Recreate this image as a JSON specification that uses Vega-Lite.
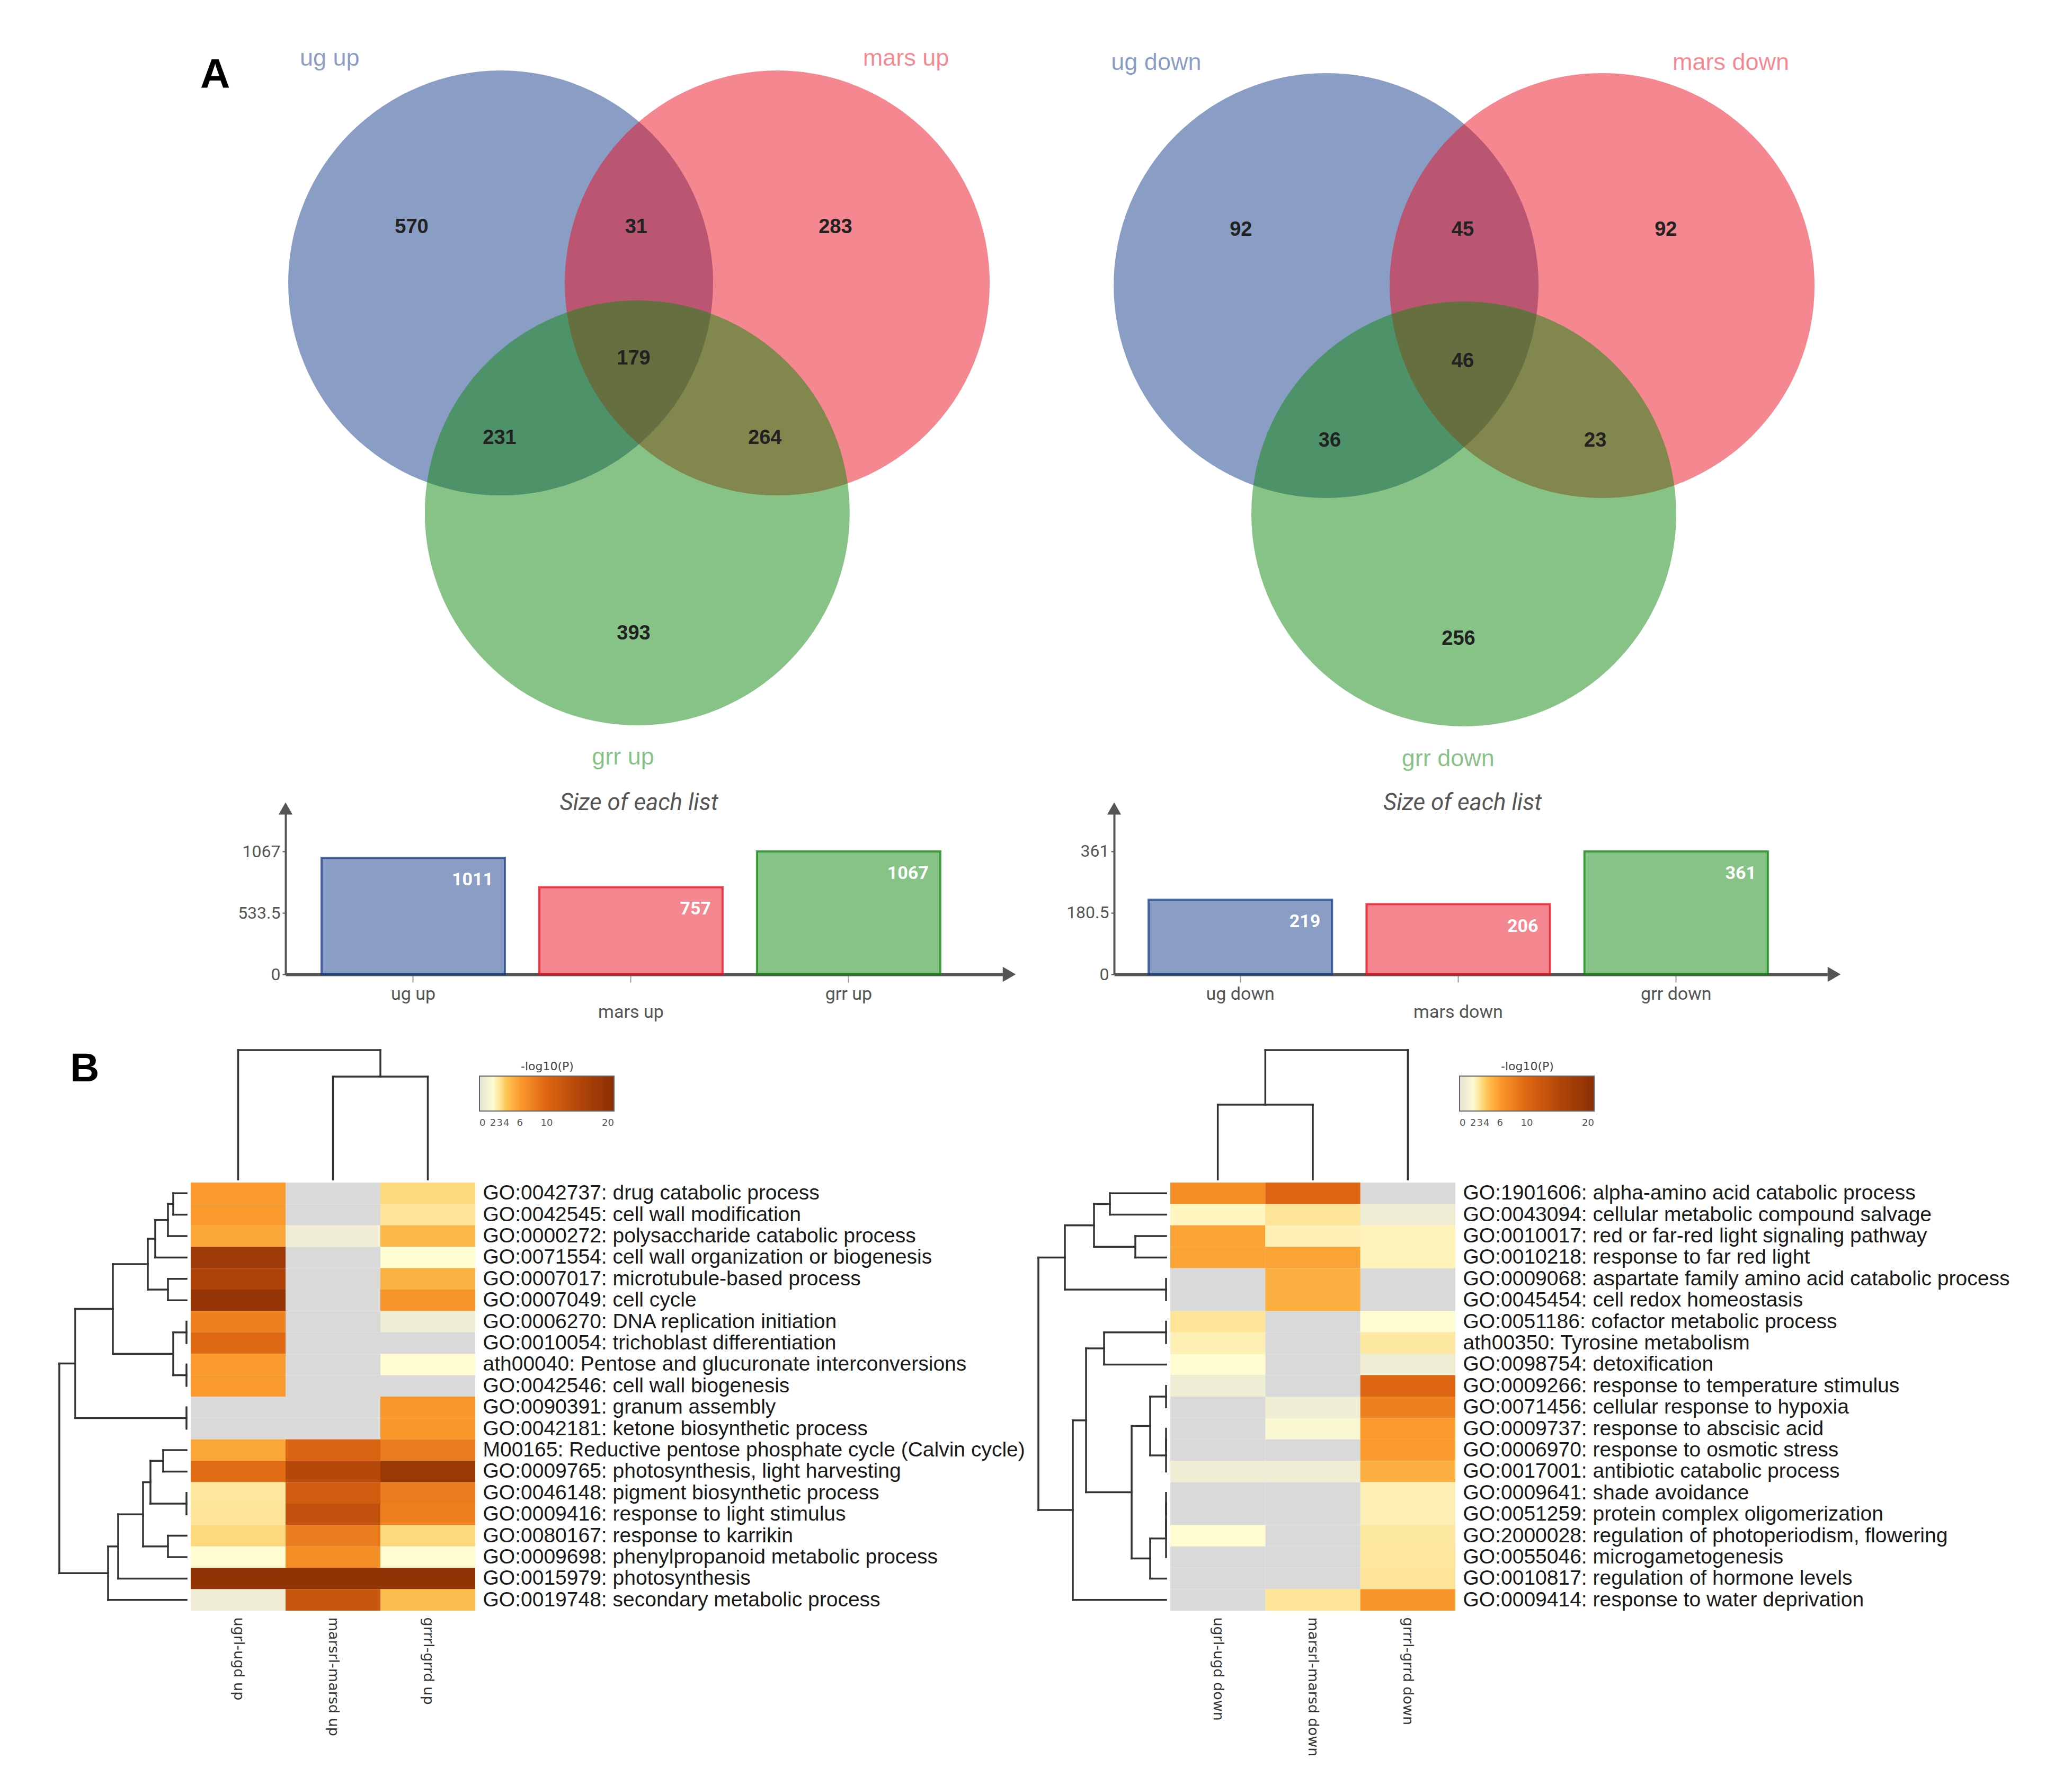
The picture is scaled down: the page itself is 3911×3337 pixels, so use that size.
{
  "$schema": "https://vega.github.io/schema/vega-lite/v6.json",
  "padding": 0,
  "background": "white",
  "config": {"view": {"stroke": null}, "font": "Liberation Sans"},
  "datasets": {
    "vennUpCircles": [{"g": "ug", "x": 0, "y": 0}, {"g": "mars", "x": 1.302, "y": 0}, {"g": "grr", "x": 0.643, "y": -1.082}],
    "vennDownCircles": [{"g": "ug", "x": 0, "y": 0}, {"g": "mars", "x": 1.299, "y": 0}, {"g": "grr", "x": 0.648, "y": -1.075}],
    "vennUpNames": [{"g": "ug", "label": "ug up", "x": -0.805, "y": 1.057}, {"g": "mars", "label": "mars up", "x": 1.908, "y": 1.057}, {"g": "grr", "label": "grr up", "x": 0.576, "y": -2.232}],
    "vennDownNames": [{"g": "ug", "label": "ug down", "x": -0.8, "y": 1.05}, {"g": "mars", "label": "mars down", "x": 1.905, "y": 1.05}, {"g": "grr", "label": "grr down", "x": 0.574, "y": -2.226}],
    "vennUpCounts": [{"n": 570, "x": -0.419, "y": 0.262}, {"n": 31, "x": 0.638, "y": 0.262}, {"n": 283, "x": 1.576, "y": 0.262}, {"n": 179, "x": 0.626, "y": -0.357}, {"n": 231, "x": -0.005, "y": -0.731}, {"n": 264, "x": 1.244, "y": -0.731}, {"n": 393, "x": 0.626, "y": -1.651}],
    "vennDownCounts": [{"n": 92, "x": -0.401, "y": 0.262}, {"n": 45, "x": 0.643, "y": 0.262}, {"n": 92, "x": 1.599, "y": 0.262}, {"n": 46, "x": 0.643, "y": -0.357}, {"n": 36, "x": 0.017, "y": -0.731}, {"n": 23, "x": 1.267, "y": -0.731}, {"n": 256, "x": 0.623, "y": -1.663}],
    "barsUp": [{"set": "ug up", "g": "ug", "n": 1011}, {"set": "mars up", "g": "mars", "n": 757}, {"set": "grr up", "g": "grr", "n": 1067}],
    "barsDown": [{"set": "ug down", "g": "ug", "n": 219}, {"set": "mars down", "g": "mars", "n": 206}, {"set": "grr down", "g": "grr", "n": 361}],
    "arrow": [{"a": 1}],
    "heatUp": [
      {"t": "GO:0042737: drug catabolic process", "ugrl-ugd up": 6, "marsrl-marsd up": null, "grrrl-grrd up": 3.4},
      {"t": "GO:0042545: cell wall modification", "ugrl-ugd up": 6, "marsrl-marsd up": null, "grrrl-grrd up": 3.0},
      {"t": "GO:0000272: polysaccharide catabolic process", "ugrl-ugd up": 5.4, "marsrl-marsd up": 1.0, "grrrl-grrd up": 4.6},
      {"t": "GO:0071554: cell wall organization or biogenesis", "ugrl-ugd up": 17.5, "marsrl-marsd up": null, "grrrl-grrd up": 2.0},
      {"t": "GO:0007017: microtubule-based process", "ugrl-ugd up": 15.5, "marsrl-marsd up": null, "grrrl-grrd up": 4.9},
      {"t": "GO:0007049: cell cycle", "ugrl-ugd up": 18.5, "marsrl-marsd up": null, "grrrl-grrd up": 6.5},
      {"t": "GO:0006270: DNA replication initiation", "ugrl-ugd up": 8, "marsrl-marsd up": null, "grrrl-grrd up": 1.0},
      {"t": "GO:0010054: trichoblast differentiation", "ugrl-ugd up": 9.8, "marsrl-marsd up": null, "grrrl-grrd up": null},
      {"t": "ath00040: Pentose and glucuronate interconversions", "ugrl-ugd up": 6, "marsrl-marsd up": null, "grrrl-grrd up": 2.0},
      {"t": "GO:0042546: cell wall biogenesis", "ugrl-ugd up": 6, "marsrl-marsd up": null, "grrrl-grrd up": null},
      {"t": "GO:0090391: granum assembly", "ugrl-ugd up": null, "marsrl-marsd up": null, "grrrl-grrd up": 6.2},
      {"t": "GO:0042181: ketone biosynthetic process", "ugrl-ugd up": null, "marsrl-marsd up": null, "grrrl-grrd up": 6.2},
      {"t": "M00165: Reductive pentose phosphate cycle (Calvin cycle)", "ugrl-ugd up": 5.4, "marsrl-marsd up": 10.5, "grrrl-grrd up": 8.2},
      {"t": "GO:0009765: photosynthesis, light harvesting", "ugrl-ugd up": 9.6, "marsrl-marsd up": 14.5, "grrrl-grrd up": 18},
      {"t": "GO:0046148: pigment biosynthetic process", "ugrl-ugd up": 2.9, "marsrl-marsd up": 11.5, "grrrl-grrd up": 8.2},
      {"t": "GO:0009416: response to light stimulus", "ugrl-ugd up": 3.0, "marsrl-marsd up": 13.2, "grrrl-grrd up": 8.0},
      {"t": "GO:0080167: response to karrikin", "ugrl-ugd up": 3.4, "marsrl-marsd up": 8.2, "grrrl-grrd up": 3.4},
      {"t": "GO:0009698: phenylpropanoid metabolic process", "ugrl-ugd up": 2.0, "marsrl-marsd up": 7.0, "grrrl-grrd up": 2.0},
      {"t": "GO:0015979: photosynthesis", "ugrl-ugd up": 19, "marsrl-marsd up": 19, "grrrl-grrd up": 19},
      {"t": "GO:0019748: secondary metabolic process", "ugrl-ugd up": 1.0, "marsrl-marsd up": 12.5, "grrrl-grrd up": 4.4}
    ],
    "heatDown": [
      {"t": "GO:1901606: alpha-amino acid catabolic process", "ugrl-ugd down": 7, "marsrl-marsd down": 10, "grrrl-grrd down": null},
      {"t": "GO:0043094: cellular metabolic compound salvage", "ugrl-ugd down": 2.3, "marsrl-marsd down": 3.0, "grrrl-grrd down": 1.0},
      {"t": "GO:0010017: red or far-red light signaling pathway", "ugrl-ugd down": 5.6, "marsrl-marsd down": 2.5, "grrrl-grrd down": 2.4},
      {"t": "GO:0010218: response to far red light", "ugrl-ugd down": 5.6, "marsrl-marsd down": 5.6, "grrrl-grrd down": 2.4},
      {"t": "GO:0009068: aspartate family amino acid catabolic process", "ugrl-ugd down": null, "marsrl-marsd down": 5, "grrrl-grrd down": null},
      {"t": "GO:0045454: cell redox homeostasis", "ugrl-ugd down": null, "marsrl-marsd down": 5, "grrrl-grrd down": null},
      {"t": "GO:0051186: cofactor metabolic process", "ugrl-ugd down": 3.0, "marsrl-marsd down": null, "grrrl-grrd down": 2.0},
      {"t": "ath00350: Tyrosine metabolism", "ugrl-ugd down": 2.5, "marsrl-marsd down": null, "grrrl-grrd down": 2.8},
      {"t": "GO:0098754: detoxification", "ugrl-ugd down": 2.0, "marsrl-marsd down": null, "grrrl-grrd down": 1.0},
      {"t": "GO:0009266: response to temperature stimulus", "ugrl-ugd down": 1.0, "marsrl-marsd down": null, "grrrl-grrd down": 10},
      {"t": "GO:0071456: cellular response to hypoxia", "ugrl-ugd down": null, "marsrl-marsd down": 1.0, "grrrl-grrd down": 8},
      {"t": "GO:0009737: response to abscisic acid", "ugrl-ugd down": null, "marsrl-marsd down": 1.7, "grrrl-grrd down": 6},
      {"t": "GO:0006970: response to osmotic stress", "ugrl-ugd down": null, "marsrl-marsd down": null, "grrrl-grrd down": 6},
      {"t": "GO:0017001: antibiotic catabolic process", "ugrl-ugd down": 1.0, "marsrl-marsd down": 1.0, "grrrl-grrd down": 5},
      {"t": "GO:0009641: shade avoidance", "ugrl-ugd down": null, "marsrl-marsd down": null, "grrrl-grrd down": 2.5},
      {"t": "GO:0051259: protein complex oligomerization", "ugrl-ugd down": null, "marsrl-marsd down": null, "grrrl-grrd down": 2.5},
      {"t": "GO:2000028: regulation of photoperiodism, flowering", "ugrl-ugd down": 2.0, "marsrl-marsd down": null, "grrrl-grrd down": 2.8},
      {"t": "GO:0055046: microgametogenesis", "ugrl-ugd down": null, "marsrl-marsd down": null, "grrrl-grrd down": 2.9},
      {"t": "GO:0010817: regulation of hormone levels", "ugrl-ugd down": null, "marsrl-marsd down": null, "grrrl-grrd down": 3.0},
      {"t": "GO:0009414: response to water deprivation", "ugrl-ugd down": null, "marsrl-marsd down": 3.0, "grrrl-grrd down": 6.5}
    ],
    "rowDendUp": [
      {"p": 1, "p2": 2, "h": 2.5, "h2": 2.5}, {"p": 1, "p2": 1, "h": 0, "h2": 2.5}, {"p": 2, "p2": 2, "h": 0, "h2": 2.5},
      {"p": 1.5, "p2": 3, "h": 3.5, "h2": 3.5}, {"p": 1.5, "p2": 1.5, "h": 2.5, "h2": 3.5}, {"p": 3, "p2": 3, "h": 0, "h2": 3.5},
      {"p": 2.25, "p2": 4, "h": 5.9, "h2": 5.9}, {"p": 2.25, "p2": 2.25, "h": 3.5, "h2": 5.9}, {"p": 4, "p2": 4, "h": 0, "h2": 5.9},
      {"p": 5, "p2": 6, "h": 3.5, "h2": 3.5}, {"p": 5, "p2": 5, "h": 0, "h2": 3.5}, {"p": 6, "p2": 6, "h": 0, "h2": 3.5},
      {"p": 3.125, "p2": 5.5, "h": 7.3, "h2": 7.3}, {"p": 3.125, "p2": 3.125, "h": 5.9, "h2": 7.3}, {"p": 5.5, "p2": 5.5, "h": 3.5, "h2": 7.3},
      {"p": 7, "p2": 8, "h": 0, "h2": 0},
      {"p": 9, "p2": 10, "h": 0, "h2": 0},
      {"p": 7.5, "p2": 9.5, "h": 2.5, "h2": 2.5}, {"p": 7.5, "p2": 7.5, "h": 0, "h2": 2.5}, {"p": 9.5, "p2": 9.5, "h": 0, "h2": 2.5},
      {"p": 4.3125, "p2": 8.5, "h": 13.9, "h2": 13.9}, {"p": 4.3125, "p2": 4.3125, "h": 7.3, "h2": 13.9}, {"p": 8.5, "p2": 8.5, "h": 2.5, "h2": 13.9},
      {"p": 11, "p2": 12, "h": 0, "h2": 0},
      {"p": 6.406, "p2": 11.5, "h": 21, "h2": 21}, {"p": 6.406, "p2": 6.406, "h": 13.9, "h2": 21}, {"p": 11.5, "p2": 11.5, "h": 0, "h2": 21},
      {"p": 13, "p2": 14, "h": 4.4, "h2": 4.4}, {"p": 13, "p2": 13, "h": 0, "h2": 4.4}, {"p": 14, "p2": 14, "h": 0, "h2": 4.4},
      {"p": 15, "p2": 16, "h": 0, "h2": 0},
      {"p": 13.5, "p2": 15.5, "h": 6.8, "h2": 6.8}, {"p": 13.5, "p2": 13.5, "h": 4.4, "h2": 6.8}, {"p": 15.5, "p2": 15.5, "h": 0, "h2": 6.8},
      {"p": 17, "p2": 18, "h": 3.5, "h2": 3.5}, {"p": 17, "p2": 17, "h": 0, "h2": 3.5}, {"p": 18, "p2": 18, "h": 0, "h2": 3.5},
      {"p": 14.5, "p2": 17.5, "h": 8.2, "h2": 8.2}, {"p": 14.5, "p2": 14.5, "h": 6.8, "h2": 8.2}, {"p": 17.5, "p2": 17.5, "h": 3.5, "h2": 8.2},
      {"p": 16, "p2": 19, "h": 12.9, "h2": 12.9}, {"p": 16, "p2": 16, "h": 8.2, "h2": 12.9}, {"p": 19, "p2": 19, "h": 0, "h2": 12.9},
      {"p": 17.5, "p2": 20, "h": 14.8, "h2": 14.8}, {"p": 17.5, "p2": 17.5, "h": 12.9, "h2": 14.8}, {"p": 20, "p2": 20, "h": 0, "h2": 14.8},
      {"p": 8.953, "p2": 18.75, "h": 24, "h2": 24}, {"p": 8.953, "p2": 8.953, "h": 21, "h2": 24}, {"p": 18.75, "p2": 18.75, "h": 14.8, "h2": 24}
    ],
    "rowDendDown": [
      {"p": 1, "p2": 2, "h": 10.6, "h2": 10.6}, {"p": 1, "p2": 1, "h": 0, "h2": 10.6}, {"p": 2, "p2": 2, "h": 0, "h2": 10.6},
      {"p": 3, "p2": 4, "h": 5.8, "h2": 5.8}, {"p": 3, "p2": 3, "h": 0, "h2": 5.8}, {"p": 4, "p2": 4, "h": 0, "h2": 5.8},
      {"p": 1.5, "p2": 3.5, "h": 13.6, "h2": 13.6}, {"p": 1.5, "p2": 1.5, "h": 10.6, "h2": 13.6}, {"p": 3.5, "p2": 3.5, "h": 5.8, "h2": 13.6},
      {"p": 5, "p2": 6, "h": 0, "h2": 0},
      {"p": 2.5, "p2": 5.5, "h": 19.1, "h2": 19.1}, {"p": 2.5, "p2": 2.5, "h": 13.6, "h2": 19.1}, {"p": 5.5, "p2": 5.5, "h": 0, "h2": 19.1},
      {"p": 7, "p2": 8, "h": 0, "h2": 0},
      {"p": 7.5, "p2": 9, "h": 11.7, "h2": 11.7}, {"p": 7.5, "p2": 7.5, "h": 0, "h2": 11.7}, {"p": 9, "p2": 9, "h": 0, "h2": 11.7},
      {"p": 10, "p2": 11, "h": 0, "h2": 0},
      {"p": 12, "p2": 13, "h": 0, "h2": 0},
      {"p": 12.5, "p2": 14, "h": 0, "h2": 0},
      {"p": 10.5, "p2": 13.25, "h": 3, "h2": 3}, {"p": 10.5, "p2": 10.5, "h": 0, "h2": 3}, {"p": 13.25, "p2": 13.25, "h": 0, "h2": 3},
      {"p": 15, "p2": 16, "h": 0, "h2": 0},
      {"p": 15.5, "p2": 17, "h": 0, "h2": 0},
      {"p": 16.25, "p2": 18, "h": 0, "h2": 0},
      {"p": 17.125, "p2": 19, "h": 3, "h2": 3}, {"p": 17.125, "p2": 17.125, "h": 0, "h2": 3}, {"p": 19, "p2": 19, "h": 0, "h2": 3},
      {"p": 11.875, "p2": 18.0625, "h": 6.5, "h2": 6.5}, {"p": 11.875, "p2": 11.875, "h": 3, "h2": 6.5}, {"p": 18.0625, "p2": 18.0625, "h": 3, "h2": 6.5},
      {"p": 8.25, "p2": 14.97, "h": 15.1, "h2": 15.1}, {"p": 8.25, "p2": 8.25, "h": 11.7, "h2": 15.1}, {"p": 14.97, "p2": 14.97, "h": 6.5, "h2": 15.1},
      {"p": 11.61, "p2": 20, "h": 17.6, "h2": 17.6}, {"p": 11.61, "p2": 11.61, "h": 15.1, "h2": 17.6}, {"p": 20, "p2": 20, "h": 0, "h2": 17.6},
      {"p": 4, "p2": 15.8, "h": 24.1, "h2": 24.1}, {"p": 4, "p2": 4, "h": 19.1, "h2": 24.1}, {"p": 15.8, "p2": 15.8, "h": 17.6, "h2": 24.1}
    ],
    "colDendUp": [
      {"p": 1, "p2": 2, "h": 19.4, "h2": 19.4}, {"p": 1, "p2": 1, "h": 0, "h2": 19.4}, {"p": 2, "p2": 2, "h": 0, "h2": 19.4},
      {"p": 0, "p2": 1.5, "h": 24.4, "h2": 24.4}, {"p": 0, "p2": 0, "h": 0, "h2": 24.4}, {"p": 1.5, "p2": 1.5, "h": 19.4, "h2": 24.4}
    ],
    "colDendDown": [
      {"p": 0, "p2": 1, "h": 14.1, "h2": 14.1}, {"p": 0, "p2": 0, "h": 0, "h2": 14.1}, {"p": 1, "p2": 1, "h": 0, "h2": 14.1},
      {"p": 0.5, "p2": 2, "h": 24.4, "h2": 24.4}, {"p": 0.5, "p2": 0.5, "h": 14.1, "h2": 24.4}, {"p": 2, "p2": 2, "h": 0, "h2": 24.4}
    ]
  },
  "spacing": 0,
  "resolve": {"scale": {"color": "independent"}, "legend": {"color": "independent"}},
  "vconcat": [
    {
      "hconcat": [
        {
          "width": 1955, "height": 1470,
          "encoding": {
            "x": {"field": "x", "type": "quantitative", "scale": {"domain": [-2.357, 2.519], "nice": false, "zero": false}, "axis": null},
            "y": {"field": "y", "type": "quantitative", "scale": {"domain": [-2.334, 1.332], "nice": false, "zero": false}, "axis": null}
          },
          "layer": [
            {"data": {"name": "vennUpCircles"}, "mark": {"type": "point", "shape": "circle", "filled": true, "size": 643204, "opacity": 1, "fillOpacity": 0.5, "strokeWidth": 0},
             "encoding": {"fill": {"field": "g", "type": "nominal", "scale": {"domain": ["ug", "mars", "grr"], "range": ["#153b89", "#e90f1f", "#0f870d"]}, "legend": null}}},
            {"data": {"name": "vennUpNames"}, "mark": {"type": "text", "fontSize": 45, "fillOpacity": 0.5},
             "encoding": {"text": {"field": "label"}, "fill": {"field": "g", "type": "nominal", "scale": {"domain": ["ug", "mars", "grr"], "range": ["#153b89", "#e90f1f", "#0f870d"]}, "legend": null}}},
            {"data": {"name": "vennUpCounts"}, "mark": {"type": "text", "fontSize": 38, "fontWeight": "bold", "color": "#222"},
             "encoding": {"text": {"field": "n", "type": "quantitative", "format": "d"}}},
            {"data": {"values": [{"L": "A", "x": -1.344, "y": 0.976}]}, "mark": {"type": "text", "fontSize": 78, "fontWeight": "bold", "color": "#000"},
             "encoding": {"text": {"field": "L"}}}
          ]
        },
        {
          "width": 1956, "height": 1470,
          "encoding": {
            "x": {"field": "x", "type": "quantitative", "scale": {"domain": [-1.367, 3.511], "nice": false, "zero": false}, "axis": null},
            "y": {"field": "y", "type": "quantitative", "scale": {"domain": [-2.322, 1.344], "nice": false, "zero": false}, "axis": null}
          },
          "layer": [
            {"data": {"name": "vennDownCircles"}, "mark": {"type": "point", "shape": "circle", "filled": true, "size": 643204, "opacity": 1, "fillOpacity": 0.5, "strokeWidth": 0},
             "encoding": {"fill": {"field": "g", "type": "nominal", "scale": {"domain": ["ug", "mars", "grr"], "range": ["#153b89", "#e90f1f", "#0f870d"]}, "legend": null}}},
            {"data": {"name": "vennDownNames"}, "mark": {"type": "text", "fontSize": 45, "fillOpacity": 0.5},
             "encoding": {"text": {"field": "label"}, "fill": {"field": "g", "type": "nominal", "scale": {"domain": ["ug", "mars", "grr"], "range": ["#153b89", "#e90f1f", "#0f870d"]}, "legend": null}}},
            {"data": {"name": "vennDownCounts"}, "mark": {"type": "text", "fontSize": 38, "fontWeight": "bold", "color": "#222"},
             "encoding": {"text": {"field": "n", "type": "quantitative", "format": "d"}}}
          ]
        }
      ],
      "spacing": 0,
      "bounds": "flush"
    },
    {"width": 10, "height": 23, "data": {"values": [{}]}, "mark": "text", "encoding": {"text": {"value": ""}}},
    {
      "hconcat": [
        {"width": 539, "height": 313, "data": {"values": [{}]}, "mark": "text", "encoding": {"text": {"value": ""}}},
        {
          "width": 1366, "height": 313,
          "title": {"text": "Size of each list", "fontStyle": "italic", "fontSize": 44, "font": "Roboto", "fontWeight": "normal", "color": "#555", "offset": -23, "anchor": "middle", "dx": -16},
          "layer": [
            {"data": {"name": "barsUp"},
             "mark": {"type": "bar", "fillOpacity": 0.5, "strokeOpacity": 0.75, "strokeWidth": 4},
             "encoding": {
               "x": {"field": "set", "type": "nominal", "sort": null, "scale": {"paddingInner": 0.158, "paddingOuter": 0.241, "align": 0.343},
                     "axis": {"title": null, "labelAngle": 0, "labelFont": "Roboto", "labelFontSize": 34, "labelColor": "#555",
                              "labelPadding": {"condition": {"test": "indexof(datum.value, 'mars') >= 0", "value": 39}, "value": 5},
                              "domainColor": "#555", "domainWidth": 6, "tickColor": "#999", "tickSize": 15, "tickWidth": 2}},
               "y": {"field": "n", "type": "quantitative", "scale": {"domain": [0, 1439.6], "nice": false},
                     "axis": {"title": null, "values": [0, 533.5, 1067], "format": ".6~g", "grid": false, "labelFont": "Roboto", "labelFontSize": 32, "labelColor": "#555",
                              "domainColor": "#555", "domainWidth": 4, "tickColor": "#555", "tickSize": 6, "tickWidth": 2, "labelPadding": 4}},
               "fill": {"field": "g", "type": "nominal", "scale": {"domain": ["ug", "mars", "grr"], "range": ["#153b89", "#e90f1f", "#0f870d"]}, "legend": null},
               "stroke": {"field": "g", "type": "nominal", "scale": {"domain": ["ug", "mars", "grr"], "range": ["#153b89", "#e90f1f", "#0f870d"]}, "legend": null}}},
            {"data": {"name": "barsUp"},
             "mark": {"type": "text", "align": "right", "baseline": "middle", "dx": -22, "dy": 42, "fill": "white", "fontSize": 34, "fontWeight": "bold", "font": "Roboto"},
             "encoding": {"x": {"field": "set", "type": "nominal", "sort": null, "bandPosition": 1}, "y": {"field": "n", "type": "quantitative"}, "text": {"field": "n", "type": "quantitative", "format": "d"}}},
            {"data": {"name": "arrow"}, "mark": {"type": "point", "shape": "triangle-up", "filled": true, "size": 700, "color": "#555", "opacity": 1},
             "encoding": {"x": {"value": 0}, "y": {"datum": 1439.6, "type": "quantitative"}}},
            {"data": {"name": "arrow"}, "mark": {"type": "point", "shape": "triangle-right", "filled": true, "size": 800, "color": "#555", "opacity": 1},
             "encoding": {"x": {"value": "width"}, "y": {"datum": 0, "type": "quantitative"}}}
          ]
        },
        {"width": 198, "height": 313, "data": {"values": [{}]}, "mark": "text", "encoding": {"text": {"value": ""}}},
        {
          "width": 1359, "height": 313,
          "title": {"text": "Size of each list", "fontStyle": "italic", "fontSize": 44, "font": "Roboto", "fontWeight": "normal", "color": "#555", "offset": -23, "anchor": "middle", "dx": -22},
          "layer": [
            {"data": {"name": "barsDown"},
             "mark": {"type": "bar", "fillOpacity": 0.5, "strokeOpacity": 0.75, "strokeWidth": 4},
             "encoding": {
               "x": {"field": "set", "type": "nominal", "sort": null, "scale": {"paddingInner": 0.158, "paddingOuter": 0.231, "align": 0.342},
                     "axis": {"title": null, "labelAngle": 0, "labelFont": "Roboto", "labelFontSize": 34, "labelColor": "#555",
                              "labelPadding": {"condition": {"test": "indexof(datum.value, 'mars') >= 0", "value": 39}, "value": 5},
                              "domainColor": "#555", "domainWidth": 6, "tickColor": "#999", "tickSize": 15, "tickWidth": 2}},
               "y": {"field": "n", "type": "quantitative", "scale": {"domain": [0, 487], "nice": false},
                     "axis": {"title": null, "values": [0, 180.5, 361], "format": ".6~g", "grid": false, "labelFont": "Roboto", "labelFontSize": 32, "labelColor": "#555",
                              "domainColor": "#555", "domainWidth": 4, "tickColor": "#555", "tickSize": 6, "tickWidth": 2, "labelPadding": 4}},
               "fill": {"field": "g", "type": "nominal", "scale": {"domain": ["ug", "mars", "grr"], "range": ["#153b89", "#e90f1f", "#0f870d"]}, "legend": null},
               "stroke": {"field": "g", "type": "nominal", "scale": {"domain": ["ug", "mars", "grr"], "range": ["#153b89", "#e90f1f", "#0f870d"]}, "legend": null}}},
            {"data": {"name": "barsDown"},
             "mark": {"type": "text", "align": "right", "baseline": "middle", "dx": -22, "dy": 42, "fill": "white", "fontSize": 34, "fontWeight": "bold", "font": "Roboto"},
             "encoding": {"x": {"field": "set", "type": "nominal", "sort": null, "bandPosition": 1}, "y": {"field": "n", "type": "quantitative"}, "text": {"field": "n", "type": "quantitative", "format": "d"}}},
            {"data": {"name": "arrow"}, "mark": {"type": "point", "shape": "triangle-up", "filled": true, "size": 700, "color": "#555", "opacity": 1},
             "encoding": {"x": {"value": 0}, "y": {"datum": 487, "type": "quantitative"}}},
            {"data": {"name": "arrow"}, "mark": {"type": "point", "shape": "triangle-right", "filled": true, "size": 800, "color": "#555", "opacity": 1},
             "encoding": {"x": {"value": "width"}, "y": {"datum": 0, "type": "quantitative"}}}
          ]
        }
      ],
      "spacing": 0,
      "bounds": "flush"
    },
    {"width": 10, "height": 52, "data": {"values": [{}]}, "mark": "text", "encoding": {"text": {"value": ""}}},
    {
      "columns": 4,
      "bounds": "flush",
      "align": "each",
      "spacing": {"row": 6, "column": 8},
      "resolve": {"scale": {"color": "independent"}, "legend": {"color": "independent"}},
      "concat": [
        {"width": 352, "height": 244, "data": {"values": [{"L": "B"}]},
         "mark": {"type": "text", "fontSize": 76, "fontWeight": "bold", "color": "#000", "dx": -16, "dy": -86},
         "encoding": {"text": {"field": "L"}}},
        {"width": 537, "height": 244, "data": {"name": "colDendUp"},
         "mark": {"type": "rule", "color": "#333", "strokeWidth": 3.5, "strokeCap": "square"},
         "encoding": {
           "x": {"field": "p", "type": "quantitative", "scale": {"domain": [-0.5, 2.5], "nice": false, "zero": false}, "axis": null},
           "x2": {"field": "p2"},
           "y": {"field": "h", "type": "quantitative", "scale": {"domain": [0, 24.4], "nice": false}, "axis": null},
           "y2": {"field": "h2"}}},
        {"width": 1296, "height": 244, "data": {"values": [{}]}, "mark": "text", "encoding": {"text": {"value": ""}}},
        {"width": 538, "height": 244, "data": {"name": "colDendDown"},
         "mark": {"type": "rule", "color": "#333", "strokeWidth": 3.5, "strokeCap": "square"},
         "encoding": {
           "x": {"field": "p", "type": "quantitative", "scale": {"domain": [-0.5, 2.5], "nice": false, "zero": false}, "axis": null},
           "x2": {"field": "p2"},
           "y": {"field": "h", "type": "quantitative", "scale": {"domain": [0, 24.4], "nice": false}, "axis": null},
           "y2": {"field": "h2"}}},
        {"width": 352, "height": 808, "data": {"name": "rowDendUp"},
         "mark": {"type": "rule", "color": "#333", "strokeWidth": 3.5, "strokeCap": "square"},
         "encoding": {
           "x": {"field": "h", "type": "quantitative", "scale": {"domain": [0, 35.2], "reverse": true, "nice": false, "zero": false}, "axis": null},
           "x2": {"field": "h2"},
           "y": {"field": "p", "type": "quantitative", "scale": {"domain": [0.5, 20.5], "reverse": true, "nice": false, "zero": false}, "axis": null},
           "y2": {"field": "p2"}}},
        {"width": 537, "height": 808, "data": {"name": "heatUp"},
         "transform": [{"fold": ["ugrl-ugd up", "marsrl-marsd up", "grrrl-grrd up"], "as": ["c", "v"]}],
         "encoding": {
           "x": {"field": "c", "type": "nominal", "sort": null, "scale": {"paddingInner": 0, "paddingOuter": 0},
                 "axis": {"title": null, "orient": "bottom", "labelAngle": 90, "labelFont": "DejaVu Sans", "labelFontSize": 27, "labelColor": "#333", "ticks": false, "domain": false, "labelPadding": 12, "labelLimit": 3000}},
           "y": {"field": "t", "type": "nominal", "sort": null, "scale": {"paddingInner": 0, "paddingOuter": 0},
                 "axis": {"title": null, "orient": "right", "labelFont": "Liberation Sans", "labelFontSize": 39, "labelColor": "#1a1a1a", "ticks": false, "domain": false, "labelPadding": 14, "labelLimit": 3000}}
         },
         "layer": [
           {"mark": {"type": "rect", "color": "#d9d9d9"}},
           {"transform": [{"filter": "isValid(datum.v)"}],
            "mark": {"type": "rect"},
            "encoding": {"color": {"field": "v", "type": "quantitative",
              "scale": {"domain": [0, 1, 2, 3, 4, 6, 10, 15, 20], "range": ["#e5e5d3", "#efeed5", "#fefcd0", "#fee497", "#fdc656", "#fb9a2c", "#de6612", "#b14509", "#8a2f04"], "interpolate": "rgb", "clamp": true},
              "legend": {"orient": "none", "legendX": 545, "legendY": -229, "direction": "horizontal", "gradientLength": 254, "gradientThickness": 66,
                         "title": "-log10(P)", "titleFont": "DejaVu Sans", "titleFontSize": 22, "titleFontWeight": "normal", "titleColor": "#444", "titleAnchor": "middle", "titlePadding": 6,
                         "labelFont": "DejaVu Sans", "labelFontSize": 18, "labelColor": "#555", "labelOverlap": false, "labelOffset": 14, "values": [0, 2, 3, 4, 6, 10, 20],
                         "gradientStrokeColor": "#666", "gradientStrokeWidth": 2}}}}
         ]},
        {"width": 1296, "height": 808, "data": {"name": "rowDendDown"},
         "mark": {"type": "rule", "color": "#333", "strokeWidth": 3.5, "strokeCap": "square"},
         "encoding": {
           "x": {"field": "h", "type": "quantitative", "scale": {"domain": [0, 129.6], "reverse": true, "nice": false, "zero": false}, "axis": null},
           "x2": {"field": "h2"},
           "y": {"field": "p", "type": "quantitative", "scale": {"domain": [0.5, 20.5], "reverse": true, "nice": false, "zero": false}, "axis": null},
           "y2": {"field": "p2"}}},
        {"width": 538, "height": 808, "data": {"name": "heatDown"},
         "transform": [{"fold": ["ugrl-ugd down", "marsrl-marsd down", "grrrl-grrd down"], "as": ["c", "v"]}],
         "encoding": {
           "x": {"field": "c", "type": "nominal", "sort": null, "scale": {"paddingInner": 0, "paddingOuter": 0},
                 "axis": {"title": null, "orient": "bottom", "labelAngle": 90, "labelFont": "DejaVu Sans", "labelFontSize": 27, "labelColor": "#333", "ticks": false, "domain": false, "labelPadding": 12, "labelLimit": 3000}},
           "y": {"field": "t", "type": "nominal", "sort": null, "scale": {"paddingInner": 0, "paddingOuter": 0},
                 "axis": {"title": null, "orient": "right", "labelFont": "Liberation Sans", "labelFontSize": 39, "labelColor": "#1a1a1a", "ticks": false, "domain": false, "labelPadding": 14, "labelLimit": 3000}}
         },
         "layer": [
           {"mark": {"type": "rect", "color": "#d9d9d9"}},
           {"transform": [{"filter": "isValid(datum.v)"}],
            "mark": {"type": "rect"},
            "encoding": {"color": {"field": "v", "type": "quantitative",
              "scale": {"domain": [0, 1, 2, 3, 4, 6, 10, 15, 20], "range": ["#e5e5d3", "#efeed5", "#fefcd0", "#fee497", "#fdc656", "#fb9a2c", "#de6612", "#b14509", "#8a2f04"], "interpolate": "rgb", "clamp": true},
              "legend": {"orient": "none", "legendX": 546, "legendY": -229, "direction": "horizontal", "gradientLength": 254, "gradientThickness": 66,
                         "title": "-log10(P)", "titleFont": "DejaVu Sans", "titleFontSize": 22, "titleFontWeight": "normal", "titleColor": "#444", "titleAnchor": "middle", "titlePadding": 6,
                         "labelFont": "DejaVu Sans", "labelFontSize": 18, "labelColor": "#555", "labelOverlap": false, "labelOffset": 14, "values": [0, 2, 3, 4, 6, 10, 20],
                         "gradientStrokeColor": "#666", "gradientStrokeWidth": 2}}}}
         ]}
      ]
    }
  ]
}
